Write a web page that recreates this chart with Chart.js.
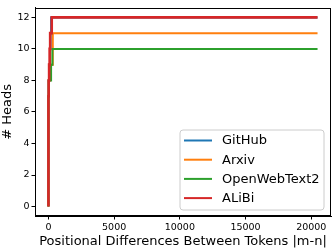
<!DOCTYPE html>
<html>
<head>
<meta charset="utf-8">
<script src="https://cdn.jsdelivr.net/npm/chart.js@4.4.0/dist/chart.umd.min.js"></script>
<style>
html,body{margin:0;padding:0;background:#fff;}
#wrap{width:332px;height:249px;position:relative;}
</style>
</head>
<body>
<div id="wrap"><canvas id="c" width="332" height="249"></canvas></div>
<script>
// Data (step curves: value holds from x until next x)
const seriesNames = ["GitHub", "Arxiv", "OpenWebText2", "ALiBi"];
const seriesColors = ["#1f77b4", "#ff7f0e", "#2ca02c", "#d62728"];
const githubX = [0, 10, 60, 120, 160, 200, 370, 20480];
const githubY = [0, 7, 8, 9, 10, 11, 12, 12];
const arxivX = [0, 20, 100, 330, 700, 20480];
const arxivY = [0, 7, 8, 9, 11, 11];
const owtX = [0, 20, 200, 300, 380, 20480];
const owtY = [0, 7, 8, 9, 10, 10];
const alibiX = [0, 15, 50, 90, 130, 250, 430, 20480];
const alibiY = [0, 7, 8, 9, 10, 11, 12, 12];
const xTicks = [0, 5000, 10000, 15000, 20000];
const yTicks = [0, 2, 4, 6, 8, 10, 12];
const xLabel = "Positional Differences Between Tokens |m-n|";
const yLabel = "# Heads";

const xsAll = [githubX, arxivX, owtX, alibiX];
const ysAll = [githubY, arxivY, owtY, alibiY];
const datasets = seriesNames.map((n, i) => ({
  label: n,
  data: xsAll[i].map((x, j) => ({x: x, y: ysAll[i][j]})),
  borderColor: seriesColors[i],
  backgroundColor: seriesColors[i],
  borderWidth: i === seriesNames.length - 1 ? 2.6 : 2,
  pointRadius: 0,
  stepped: 'after',
  fill: false,
  order: seriesNames.length - i
}));

const FONT = "'DejaVu Sans', sans-serif";

const framePlugin = {
  id: 'frame',
  afterDraw(chart) {
    const {ctx, chartArea: a} = chart;
    ctx.save();
    ctx.strokeStyle = '#000';
    ctx.lineWidth = 1;
    ctx.strokeRect(Math.round(a.left) + 0.5, Math.round(a.top) + 0.5, Math.round(a.right - a.left) - 1, Math.round(a.bottom - a.top) - 1);
    // legend
    const bx = 180, by = 130, bw = 144, bh = 80, r = 3;
    ctx.beginPath();
    ctx.moveTo(bx + r, by);
    ctx.lineTo(bx + bw - r, by);
    ctx.quadraticCurveTo(bx + bw, by, bx + bw, by + r);
    ctx.lineTo(bx + bw, by + bh - r);
    ctx.quadraticCurveTo(bx + bw, by + bh, bx + bw - r, by + bh);
    ctx.lineTo(bx + r, by + bh);
    ctx.quadraticCurveTo(bx, by + bh, bx, by + bh - r);
    ctx.lineTo(bx, by + r);
    ctx.quadraticCurveTo(bx, by, bx + r, by);
    ctx.closePath();
    ctx.fillStyle = 'rgba(255,255,255,0.8)';
    ctx.fill();
    ctx.strokeStyle = '#cccccc';
    ctx.lineWidth = 1;
    ctx.stroke();
    ctx.font = "13px " + FONT;
    ctx.textBaseline = 'middle';
    ctx.textAlign = 'left';
    seriesNames.forEach((name, i) => {
      const y = 140.5 + i * 19.2;
      ctx.strokeStyle = seriesColors[i];
      ctx.lineWidth = 2;
      ctx.beginPath();
      ctx.moveTo(184, y);
      ctx.lineTo(212, y);
      ctx.stroke();
      ctx.fillStyle = '#000';
      ctx.fillText(name, 222, y + 0.5);
    });
    ctx.restore();
  }
};

new Chart(document.getElementById('c'), {
  type: 'line',
  data: {datasets: datasets},
  plugins: [framePlugin],
  options: {
    responsive: false,
    animation: false,
    layout: {padding: {top: 1, right: 1, left: 0, bottom: 0}},
    plugins: {legend: {display: false}, tooltip: {enabled: false}},
    scales: {
      x: {
        type: 'linear',
        min: -1024, max: 21504,
        afterBuildTicks(s) { s.ticks = xTicks.map(v => ({value: v})); },
        afterFit(s) { s.height = 33; },
        grid: {display: true, drawOnChartArea: false, tickLength: 3.5, color: '#000', tickColor: '#000'},
        border: {display: true, color: '#000', width: 1},
        ticks: {font: {family: FONT, size: 9.5}, color: '#000', padding: 2, maxRotation: 0, autoSkip: false,
                callback: v => String(v)},
        title: {display: true, text: xLabel, font: {family: FONT, size: 13}, color: '#000', padding: {top: 0, bottom: 0}}
      },
      y: {
        type: 'linear',
        min: -0.6, max: 12.614,
        afterBuildTicks(s) { s.ticks = yTicks.map(v => ({value: v})); },
        afterFit(s) { s.width = 35; },
        grid: {display: true, drawOnChartArea: false, tickLength: 3.5, color: '#000', tickColor: '#000'},
        border: {display: true, color: '#000', width: 1},
        ticks: {font: {family: FONT, size: 9.5}, color: '#000', padding: 2, autoSkip: false,
                callback: v => String(v)},
        title: {display: true, text: yLabel, font: {family: FONT, size: 13}, color: '#000', padding: {top: 0, bottom: 0}}
      }
    }
  }
});
</script>
</body>
</html>
